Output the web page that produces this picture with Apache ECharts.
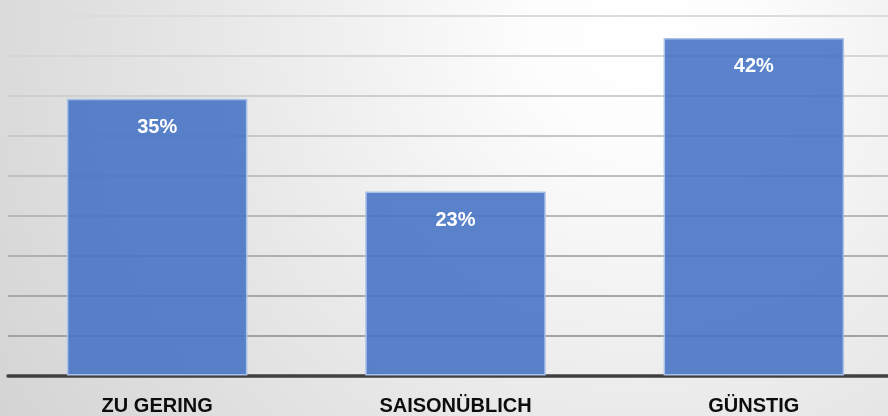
<!DOCTYPE html>
<html>
<head>
<meta charset="utf-8">
<script src="https://cdn.jsdelivr.net/npm/echarts@6/dist/echarts.min.js"></script>
<style>
  html, body { margin: 0; padding: 0; }
  #main {
    width: 888px; height: 416px;
    background: radial-gradient(circle farthest-corner at 72% 8%, #ffffff 0%, #fdfdfd 14%, #e6e6e6 60%, #d4d4d4 100%);
  }
</style>
</head>
<body>
<div id="main"></div>
<script>
// categories and values (percent)
const categories = ['ZU GERING', 'SAISONÜBLICH', 'GÜNSTIG'];
const values = [34.6, 23.0, 42.2];
const yTicks = [0, 5, 10, 15, 20, 25, 30, 35, 40, 45];

// gridlines get lighter towards the top
const gridColors = ['#a0a0a0', '#a2a2a2', '#a8a8a8', '#b0b0b0', '#b8b8b8',
                    '#c0c0c0', '#c8c8c8', '#cfcfcf', '#d6d6d6', '#dcdcdc'];

const chart = echarts.init(document.getElementById('main'));
chart.setOption({
  backgroundColor: 'transparent',
  animation: false,
  grid: { left: 8, top: 15.5, width: 895, height: 360, outerBoundsMode: 'none', containLabel: false },
  xAxis: {
    type: 'category',
    data: categories,
    axisTick: { show: false },
    axisLine: { lineStyle: { color: '#404040', width: 3.5 } },
    axisLabel: {
      margin: 21,
      color: '#0d0d0d',
      fontFamily: 'Liberation Sans',
      fontWeight: 'bold',
      fontSize: 20
    }
  },
  yAxis: {
    type: 'value',
    min: yTicks[0],
    max: yTicks[yTicks.length - 1],
    interval: yTicks[1] - yTicks[0],
    axisLabel: { show: false },
    axisLine: { show: false },
    axisTick: { show: false },
    splitLine: { lineStyle: { color: gridColors, width: 2 } }
  },
  series: [{
    type: 'bar',
    data: values,
    barWidth: '60.5%',
    itemStyle: {
      color: 'rgba(68,114,196,0.88)',
      borderColor: '#a9c0e8',
      borderWidth: 1.5
    },
    label: {
      show: true,
      position: 'insideTop',
      distance: 19,
      color: '#ffffff',
      fontFamily: 'Liberation Sans',
      fontWeight: 'bold',
      fontSize: 20,
      formatter: p => Math.round(p.value) + '%'
    }
  }]
});
</script>
</body>
</html>
